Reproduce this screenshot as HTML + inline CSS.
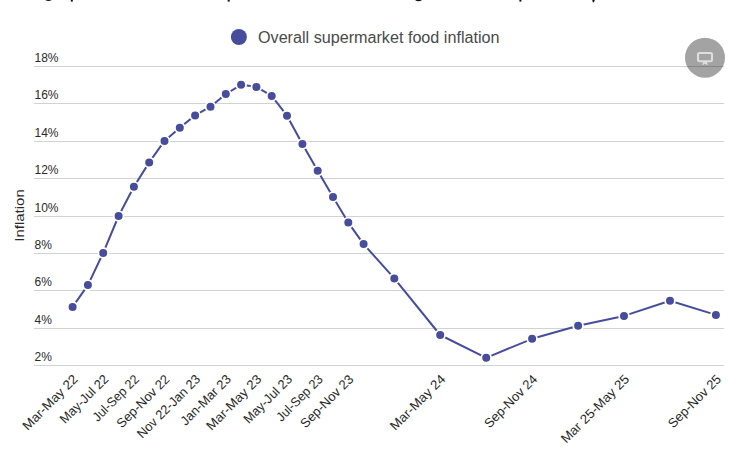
<!DOCTYPE html>
<html><head><meta charset="utf-8"><style>
html,body{margin:0;padding:0;background:#fff;width:747px;height:464px;overflow:hidden}
svg{display:block;font-family:"Liberation Sans", sans-serif}
</style></head><body>
<svg width="747" height="464" viewBox="0 0 747 464">
<rect width="747" height="464" fill="#fff"/>

<g fill="#111">
<path d="M45.3 0 Q48.5 2.2 51.7 0 Z"/>
<rect x="70.8" y="0" width="2" height="1.6"/>
<rect x="227.7" y="0" width="2" height="1.6"/>
<rect x="519.4" y="0" width="2" height="1.6"/>
<path d="M415 0 Q418.5 2.6 422 0 Z"/>
<path d="M592.3 0 L594.8 0 L594 2.3 L592.8 2.3 Z"/>
</g>
<line x1="34" x2="724" y1="66.5" y2="66.5" stroke="#cfd3d3" stroke-width="1"/>
<line x1="34" x2="724" y1="103.5" y2="103.5" stroke="#cfd3d3" stroke-width="1"/>
<line x1="34" x2="724" y1="141.5" y2="141.5" stroke="#cfd3d3" stroke-width="1"/>
<line x1="34" x2="724" y1="178.5" y2="178.5" stroke="#cfd3d3" stroke-width="1"/>
<line x1="34" x2="724" y1="216.5" y2="216.5" stroke="#cfd3d3" stroke-width="1"/>
<line x1="34" x2="724" y1="253.5" y2="253.5" stroke="#cfd3d3" stroke-width="1"/>
<line x1="34" x2="724" y1="290.5" y2="290.5" stroke="#cfd3d3" stroke-width="1"/>
<line x1="34" x2="724" y1="328.5" y2="328.5" stroke="#cfd3d3" stroke-width="1"/>
<line x1="34" x2="724" y1="365.5" y2="365.5" stroke="#cfd3d3" stroke-width="1"/>
<text x="34.5" y="62.0" font-size="12" fill="#2a2a2a">18%</text>
<text x="34.5" y="99.0" font-size="12" fill="#2a2a2a">16%</text>
<text x="34.5" y="137.0" font-size="12" fill="#2a2a2a">14%</text>
<text x="34.5" y="174.0" font-size="12" fill="#2a2a2a">12%</text>
<text x="34.5" y="212.0" font-size="12" fill="#2a2a2a">10%</text>
<text x="34.5" y="249.0" font-size="12" fill="#2a2a2a">8%</text>
<text x="34.5" y="286.0" font-size="12" fill="#2a2a2a">6%</text>
<text x="34.5" y="324.0" font-size="12" fill="#2a2a2a">4%</text>
<text x="34.5" y="361.0" font-size="12" fill="#2a2a2a">2%</text>
<text transform="translate(24.3,215.5) rotate(-90)" text-anchor="middle" font-size="12.3" textLength="52.5" lengthAdjust="spacingAndGlyphs" fill="#2a2a2a">Inflation</text>
<circle cx="238.9" cy="37" r="8" fill="#474c9b"/>
<text x="258" y="43" font-size="16" textLength="241.5" lengthAdjust="spacingAndGlyphs" fill="#4a4a4a">Overall supermarket food inflation</text>
<path d="M72.6 306.9 L87.9 285.1 L103.2 252.9 L118.6 216.0 L133.9 186.8 L149.2 162.4 L164.5 140.9 L179.8 127.7 L195.1 115.4 L210.5 106.7 L225.8 94.0 L241.1 84.8 L256.4 86.9 L271.7 95.9 L287.0 115.7 L302.4 144.0 L317.7 170.7 L333.0 197.0 L348.3 222.6 L363.6 244.1 L394.3 278.4 L440.2 335.0 L486.2 357.8 L532.1 338.8 L578.1 325.8 L624.0 315.9 L670.0 300.8 L715.9 314.9" fill="none" stroke="#474c9b" stroke-width="2" stroke-linejoin="round" stroke-linecap="round"/>
<circle cx="72.6" cy="306.9" r="4.9" fill="#474c9b" stroke="#fff" stroke-width="1.8"/>
<circle cx="87.9" cy="285.1" r="4.9" fill="#474c9b" stroke="#fff" stroke-width="1.8"/>
<circle cx="103.2" cy="252.9" r="4.9" fill="#474c9b" stroke="#fff" stroke-width="1.8"/>
<circle cx="118.6" cy="216.0" r="4.9" fill="#474c9b" stroke="#fff" stroke-width="1.8"/>
<circle cx="133.9" cy="186.8" r="4.9" fill="#474c9b" stroke="#fff" stroke-width="1.8"/>
<circle cx="149.2" cy="162.4" r="4.9" fill="#474c9b" stroke="#fff" stroke-width="1.8"/>
<circle cx="164.5" cy="140.9" r="4.9" fill="#474c9b" stroke="#fff" stroke-width="1.8"/>
<circle cx="179.8" cy="127.7" r="4.9" fill="#474c9b" stroke="#fff" stroke-width="1.8"/>
<circle cx="195.1" cy="115.4" r="4.9" fill="#474c9b" stroke="#fff" stroke-width="1.8"/>
<circle cx="210.5" cy="106.7" r="4.9" fill="#474c9b" stroke="#fff" stroke-width="1.8"/>
<circle cx="225.8" cy="94.0" r="4.9" fill="#474c9b" stroke="#fff" stroke-width="1.8"/>
<circle cx="241.1" cy="84.8" r="4.9" fill="#474c9b" stroke="#fff" stroke-width="1.8"/>
<circle cx="256.4" cy="86.9" r="4.9" fill="#474c9b" stroke="#fff" stroke-width="1.8"/>
<circle cx="271.7" cy="95.9" r="4.9" fill="#474c9b" stroke="#fff" stroke-width="1.8"/>
<circle cx="287.0" cy="115.7" r="4.9" fill="#474c9b" stroke="#fff" stroke-width="1.8"/>
<circle cx="302.4" cy="144.0" r="4.9" fill="#474c9b" stroke="#fff" stroke-width="1.8"/>
<circle cx="317.7" cy="170.7" r="4.9" fill="#474c9b" stroke="#fff" stroke-width="1.8"/>
<circle cx="333.0" cy="197.0" r="4.9" fill="#474c9b" stroke="#fff" stroke-width="1.8"/>
<circle cx="348.3" cy="222.6" r="4.9" fill="#474c9b" stroke="#fff" stroke-width="1.8"/>
<circle cx="363.6" cy="244.1" r="4.9" fill="#474c9b" stroke="#fff" stroke-width="1.8"/>
<circle cx="394.3" cy="278.4" r="4.9" fill="#474c9b" stroke="#fff" stroke-width="1.8"/>
<circle cx="440.2" cy="335.0" r="4.9" fill="#474c9b" stroke="#fff" stroke-width="1.8"/>
<circle cx="486.2" cy="357.8" r="4.9" fill="#474c9b" stroke="#fff" stroke-width="1.8"/>
<circle cx="532.1" cy="338.8" r="4.9" fill="#474c9b" stroke="#fff" stroke-width="1.8"/>
<circle cx="578.1" cy="325.8" r="4.9" fill="#474c9b" stroke="#fff" stroke-width="1.8"/>
<circle cx="624.0" cy="315.9" r="4.9" fill="#474c9b" stroke="#fff" stroke-width="1.8"/>
<circle cx="670.0" cy="300.8" r="4.9" fill="#474c9b" stroke="#fff" stroke-width="1.8"/>
<circle cx="715.9" cy="314.9" r="4.9" fill="#474c9b" stroke="#fff" stroke-width="1.8"/>
<text transform="translate(78.6,380) rotate(-45)" text-anchor="end" font-size="13" textLength="72.0" lengthAdjust="spacingAndGlyphs" fill="#2a2a2a">Mar-May 22</text>
<text transform="translate(109.2,380) rotate(-45)" text-anchor="end" font-size="13" textLength="62.6" lengthAdjust="spacingAndGlyphs" fill="#2a2a2a">May-Jul 22</text>
<text transform="translate(139.9,380) rotate(-45)" text-anchor="end" font-size="13" textLength="59.6" lengthAdjust="spacingAndGlyphs" fill="#2a2a2a">Jul-Sep 22</text>
<text transform="translate(170.5,380) rotate(-45)" text-anchor="end" font-size="13" textLength="68.9" lengthAdjust="spacingAndGlyphs" fill="#2a2a2a">Sep-Nov 22</text>
<text transform="translate(201.1,380) rotate(-45)" text-anchor="end" font-size="13" textLength="83.4" lengthAdjust="spacingAndGlyphs" fill="#2a2a2a">Nov 22-Jan 23</text>
<text transform="translate(231.8,380) rotate(-45)" text-anchor="end" font-size="13" textLength="65.3" lengthAdjust="spacingAndGlyphs" fill="#2a2a2a">Jan-Mar 23</text>
<text transform="translate(262.4,380) rotate(-45)" text-anchor="end" font-size="13" textLength="72.0" lengthAdjust="spacingAndGlyphs" fill="#2a2a2a">Mar-May 23</text>
<text transform="translate(293.0,380) rotate(-45)" text-anchor="end" font-size="13" textLength="62.6" lengthAdjust="spacingAndGlyphs" fill="#2a2a2a">May-Jul 23</text>
<text transform="translate(323.7,380) rotate(-45)" text-anchor="end" font-size="13" textLength="59.6" lengthAdjust="spacingAndGlyphs" fill="#2a2a2a">Jul-Sep 23</text>
<text transform="translate(354.3,380) rotate(-45)" text-anchor="end" font-size="13" textLength="68.9" lengthAdjust="spacingAndGlyphs" fill="#2a2a2a">Sep-Nov 23</text>
<text transform="translate(446.2,380) rotate(-45)" text-anchor="end" font-size="13" textLength="72.0" lengthAdjust="spacingAndGlyphs" fill="#2a2a2a">Mar-May 24</text>
<text transform="translate(538.1,380) rotate(-45)" text-anchor="end" font-size="13" textLength="68.9" lengthAdjust="spacingAndGlyphs" fill="#2a2a2a">Sep-Nov 24</text>
<text transform="translate(630.0,380) rotate(-45)" text-anchor="end" font-size="13" textLength="90.3" lengthAdjust="spacingAndGlyphs" fill="#2a2a2a">Mar 25-May 25</text>
<text transform="translate(721.9,380) rotate(-45)" text-anchor="end" font-size="13" textLength="68.9" lengthAdjust="spacingAndGlyphs" fill="#2a2a2a">Sep-Nov 25</text>
<circle cx="705" cy="57.7" r="20" fill="#000" fill-opacity="0.36"/>
<rect x="698" y="53" width="14" height="8.2" rx="1.6" fill="none" stroke="#dedede" stroke-width="2.1"/>
<path d="M702 64.8 L703.2 62.1 L706.8 62.1 L708 64.8 L706.6 64.8 L705 63.7 L703.4 64.8 Z" fill="#dedede"/>
</svg></body></html>
